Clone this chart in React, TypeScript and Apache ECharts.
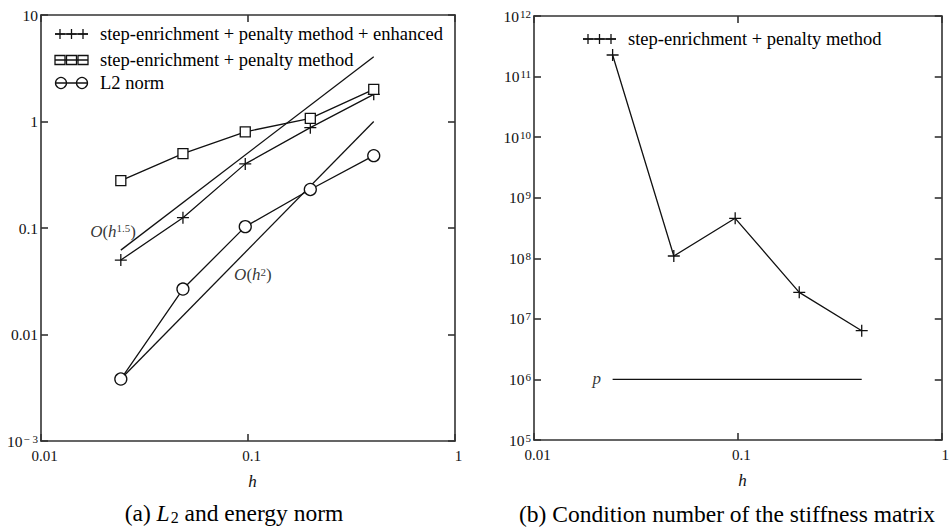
import React, { useEffect, useRef } from "react";
import * as echarts from "echarts";

// ---- data ----
const H = [0.0243, 0.0485, 0.097, 0.2, 0.405];
const ENHANCED = [0.05, 0.125, 0.4, 0.875, 1.8];
const PENALTY = [0.278, 0.5, 0.8, 1.07, 2.0];
const L2NORM = [0.00382, 0.0267, 0.103, 0.23, 0.478];
const REF_H = [0.0243, 0.405];
const REF_15 = [0.062, 4.06];
const REF_2 = [0.00382, 1.0];
const COND = [2.27e11, 1.09e8, 4.57e8, 2.74e7, 6.38e6];
const P_LEVEL = [1e6, 1e6];

const LEGEND_A = [
  "step-enrichment + penalty method + enhanced",
  "step-enrichment + penalty method",
  "L2 norm",
];
const LEGEND_B = ["step-enrichment + penalty method"];
const X_TICKS: Record<number, string> = { [-2]: "0.01", [-1]: "0.1", 0: "1" };
const Y_TICKS_A: Record<number, string> = { 1: "10", 0: "1", [-1]: "0.1", [-2]: "0.01", [-3]: "10{sup|− 3}" };

const FONT = "Liberation Serif";
const INK = "#111";
const PLUS = "path://M0,6L12,6M6,0L6,12";

const zip = (xs: number[], ys: number[]) => xs.map((x, i) => [x, ys[i]]);
const exp10 = (v: number) => Math.round(Math.log10(v));

const supRich = {
  sup: { fontSize: 11, fontFamily: FONT, color: INK, verticalAlign: "top", padding: [0, 0, 0, 1] },
};

function xAxes(gridIndex: number) {
  const common = {
    gridIndex,
    type: "log",
    logBase: 10,
    min: 0.01,
    max: 1,
    splitLine: { show: false },
    axisLine: { show: true, lineStyle: { color: "#333", width: 1.6 } },
    axisTick: { show: true, inside: true, length: 7, lineStyle: { color: "#333", width: 1.6 } },
  };
  return [
    {
      ...common,
      position: "bottom",
      axisLabel: {
        show: true,
        margin: 7,
        fontFamily: FONT,
        fontSize: 15,
        color: INK,
        padding: [0, 0, 0, 7],
        formatter: (v: number) => X_TICKS[exp10(v)] ?? "",
      },
      name: "h",
      nameLocation: "middle",
      nameGap: 32,
      nameTextStyle: { fontFamily: FONT, fontSize: 17, fontStyle: "italic", color: INK, padding: [0, 0, 0, 9] },
    },
    { ...common, position: "top", axisLabel: { show: false } },
  ];
}

function yAxes(gridIndex: number, min: number, max: number, fmt: (v: number) => string) {
  const common = {
    gridIndex,
    type: "log",
    logBase: 10,
    min,
    max,
    splitLine: { show: false },
    axisLine: { show: true, lineStyle: { color: "#333", width: 1.6 } },
    axisTick: { show: true, inside: true, length: 7, lineStyle: { color: "#333", width: 1.6 } },
  };
  return [
    {
      ...common,
      position: "left",
      axisLabel: {
        show: true,
        margin: 3,
        fontFamily: FONT,
        fontSize: 15.5,
        color: INK,
        formatter: fmt,
        rich: supRich,
      },
    },
    { ...common, position: "right", axisLabel: { show: false } },
  ];
}

function legendRow(x: number, y: number, kind: "plus" | "rect" | "circle", label: string) {
  const children: any[] = [
    { type: "line", shape: { x1: x, y1: y, x2: x + 33, y2: y }, style: { stroke: INK, lineWidth: 1.3 } },
  ];
  if (kind === "plus") {
    [5, 16.5, 28].forEach((dx) => {
      children.push({ type: "line", shape: { x1: x + dx - 5, y1: y, x2: x + dx + 5, y2: y }, style: { stroke: INK, lineWidth: 1.3 } });
      children.push({ type: "line", shape: { x1: x + dx, y1: y - 5, x2: x + dx, y2: y + 5 }, style: { stroke: INK, lineWidth: 1.3 } });
    });
  } else if (kind === "rect") {
    [5, 16.5, 28].forEach((dx) => {
      children.push({ type: "rect", shape: { x: x + dx - 5, y: y - 4.5, width: 10, height: 9 }, style: { fill: "none", stroke: INK, lineWidth: 1.3 } });
    });
  } else {
    [6, 27].forEach((dx) => {
      children.push({ type: "circle", shape: { cx: x + dx, cy: y, r: 5.5 }, style: { fill: "none", stroke: INK, lineWidth: 1.3 } });
    });
  }
  children.push({
    type: "text",
    x: x + 45,
    y,
    style: { text: label, fontFamily: FONT, fontSize: 18.5, fill: "#000", align: "left", verticalAlign: "middle" },
  });
  return { type: "group", children };
}

function annotation(xi: number, yi: number, pt: number[], text: string) {
  return {
    type: "scatter",
    xAxisIndex: xi,
    yAxisIndex: yi,
    silent: true,
    symbol: "circle",
    symbolSize: 1,
    itemStyle: { color: "rgba(0,0,0,0)" },
    data: [pt],
    label: {
      show: true,
      position: "inside",
      formatter: text,
      fontFamily: FONT,
      fontSize: 17,
      color: "#000",
      textBorderWidth: 0,
      rich: {
        i: { fontFamily: FONT, fontSize: 17, fontStyle: "italic", color: "#000", textBorderWidth: 0 },
        sup: { fontFamily: FONT, fontSize: 11, color: "#000", verticalAlign: "top", textBorderWidth: 0 },
      },
    },
  };
}

export default function App() {
  const ref = useRef<HTMLDivElement>(null);
  useEffect(() => {
    document.body.style.margin = "0";
    const chart = echarts.init(ref.current!, null, { renderer: "svg" });
    const lineBase = { type: "line", showAllSymbol: true, silent: true };
    chart.setOption({
      animation: false,
      backgroundColor: "#fff",
      textStyle: { fontFamily: FONT },
      grid: [
        { left: 41, top: 15, width: 414, height: 426 },
        { left: 534, top: 16, width: 410, height: 424 },
      ],
      xAxis: [...xAxes(0), ...xAxes(1)],
      yAxis: [
        ...yAxes(0, 0.001, 10, (v: number) => Y_TICKS_A[exp10(v)] ?? ""),
        ...yAxes(1, 1e5, 1e12, (v: number) => "10{sup|" + exp10(v) + "}"),
      ],
      series: [
        {
          ...lineBase, name: "O(h^1.5)", xAxisIndex: 0, yAxisIndex: 0, symbol: "none",
          data: zip(REF_H, REF_15), lineStyle: { color: INK, width: 1.3 },
        },
        {
          ...lineBase, name: "O(h^2)", xAxisIndex: 0, yAxisIndex: 0, symbol: "none",
          data: zip(REF_H, REF_2), lineStyle: { color: INK, width: 1.3 },
        },
        {
          ...lineBase, name: LEGEND_A[0], xAxisIndex: 0, yAxisIndex: 0, symbol: PLUS, symbolSize: 12,
          data: zip(H, ENHANCED), lineStyle: { color: INK, width: 1.3 },
          itemStyle: { color: INK, borderColor: INK, borderWidth: 1.3 },
        },
        {
          ...lineBase, name: LEGEND_A[1], xAxisIndex: 0, yAxisIndex: 0, symbol: "rect", symbolSize: 10,
          data: zip(H, PENALTY), lineStyle: { color: INK, width: 1.3 },
          itemStyle: { color: "#fff", borderColor: INK, borderWidth: 1.3 },
        },
        {
          ...lineBase, name: LEGEND_A[2], xAxisIndex: 0, yAxisIndex: 0, symbol: "circle", symbolSize: 12,
          data: zip(H, L2NORM), lineStyle: { color: INK, width: 1.3 },
          itemStyle: { color: "#fff", borderColor: INK, borderWidth: 1.3 },
        },
        {
          ...lineBase, name: LEGEND_B[0], xAxisIndex: 2, yAxisIndex: 2, symbol: PLUS, symbolSize: 12,
          data: zip(H, COND), lineStyle: { color: INK, width: 1.3 },
          itemStyle: { color: INK, borderColor: INK, borderWidth: 1.3 },
        },
        {
          ...lineBase, name: "p", xAxisIndex: 2, yAxisIndex: 2, symbol: "none",
          data: zip(REF_H, P_LEVEL), lineStyle: { color: INK, width: 1.3 },
        },
        annotation(0, 0, [0.0223, 0.0937], "{i|O}({i|h}{sup|1.5})"),
        annotation(0, 0, [0.1056, 0.0362], "{i|O}({i|h}{sup|2})"),
        annotation(2, 2, [0.0203, 1.05e6], "{i|p}"),
      ],
      graphic: [
        legendRow(55, 34, "plus", LEGEND_A[0]),
        legendRow(55, 60, "rect", LEGEND_A[1]),
        legendRow(55, 83, "circle", LEGEND_A[2]),
        legendRow(583, 39, "plus", LEGEND_B[0]),
        {
          type: "text",
          x: 234,
          y: 513,
          style: {
            text: "(a) {i|L}{sub|2} and energy norm",
            fontFamily: FONT,
            fontSize: 23.5,
            fill: "#000",
            align: "center",
            verticalAlign: "middle",
            rich: {
              i: { fontFamily: FONT, fontSize: 23.5, fontStyle: "italic", fill: "#000" },
              sub: { fontFamily: FONT, fontSize: 16, fill: "#000", verticalAlign: "bottom", padding: [9, 0, 0, 1] },
            },
          },
        },
        {
          type: "text",
          x: 727,
          y: 514,
          style: {
            text: "(b) Condition number of the stiffness matrix",
            fontFamily: FONT,
            fontSize: 23.5,
            fill: "#000",
            align: "center",
            verticalAlign: "middle",
          },
        },
      ],
    });
    return () => chart.dispose();
  }, []);
  return <div ref={ref} style={{ width: 952, height: 528 }} />;
}
